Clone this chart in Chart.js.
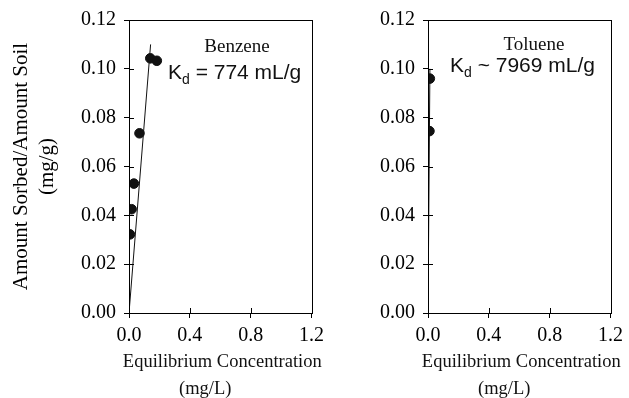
<!DOCTYPE html>
<html>
<head>
<meta charset="utf-8">
<script src="https://cdn.jsdelivr.net/npm/chart.js@4"></script>
<style>
    body { margin: 0; background: #fff; }
    .wrap { position: relative; width: 629px; height: 398px; }
    .box { position: absolute; top: 0; height: 398px; }
</style>
</head>
<body>
<div class="wrap">
    <div class="box" style="left:0;width:330px;"><canvas id="benzene-chart"></canvas></div>
    <div class="box" style="left:330px;width:299px;"><canvas id="toluene-chart"></canvas></div>
</div>
<script>
// 苯 benzene: measured points and fitted line (Kd = 774 mL/g)
const benzeneConc = [0.006, 0.017, 0.032, 0.069, 0.140, 0.183];
const benzeneSorbed = [0.0322, 0.0425, 0.0530, 0.0736, 0.1043, 0.1033];
const benzeneFitConc = [0, 0.142];
const benzeneFitSorbed = [0, 0.110];

// 甲苯 toluene: measured points and fitted line (Kd ~ 7969 mL/g)
const tolueneConc = [0.0095, 0.012];
const tolueneSorbed = [0.0745, 0.0960];
const tolueneFitConc = [0, 0.0126];
const tolueneFitSorbed = [0, 0.100];

const xTicks = [0, 0.4, 0.8, 1.2];
const yTicks = [0, 0.02, 0.04, 0.06, 0.08, 0.10, 0.12];
const xTitle = ['Equilibrium Concentration', '(mg/L)'];
const yTitle = ['Amount Sorbed/Amount Soil', '(mg/g)'];

const SERIF = '"Liberation Serif", "Times New Roman", serif';
const SANS = '"Liberation Sans", Arial, sans-serif';

Chart.defaults.font.family = SERIF;
Chart.defaults.color = '#000';

function toPoints(xs, ys) {
    return xs.map((x, i) => ({ x: x, y: ys[i] }));
}

// 框線、向內刻度與 x 軸標題
const framePlugin = {
    id: 'frame',
    afterDraw(chart) {
        const ctx = chart.ctx;
        const a = chart.chartArea;
        ctx.save();
        ctx.strokeStyle = '#000';
        ctx.lineWidth = 1;
        ctx.strokeRect(Math.round(a.left) + 0.5, Math.round(a.top) + 0.5,
            Math.round(a.right - a.left), Math.round(a.bottom - a.top));
        ctx.beginPath();
        const xs = chart.scales.x;
        xs.ticks.forEach((t, i) => {
            const px = Math.round(xs.getPixelForTick(i)) + 0.5;
            ctx.moveTo(px, a.bottom);
            ctx.lineTo(px, a.bottom - 5);
        });
        const ys = chart.scales.y;
        ys.ticks.forEach((t, i) => {
            const py = Math.round(ys.getPixelForTick(i)) + 0.5;
            ctx.moveTo(a.left, py);
            ctx.lineTo(a.left + 5, py);
        });
        ctx.stroke();

        // x 軸標題 (比圖寬，不壓縮)
        ctx.fillStyle = '#111';
        ctx.font = '18.5px ' + SERIF;
        ctx.textAlign = 'center';
        ctx.textBaseline = 'alphabetic';
        const cx = (a.left + a.right) / 2 + 2;
        ctx.fillText(xTitle[0], cx, 367);
        ctx.fillText(xTitle[1], cx - 17, 394);
        ctx.restore();
    }
};

// 標籤文字 (名稱 + Kd)
function labelPlugin(name, nameX, nameY, kdRest, kdX, kdY) {
    return {
        id: 'labels',
        afterDraw(chart) {
            const ctx = chart.ctx;
            ctx.save();
            ctx.fillStyle = '#111';
            ctx.textBaseline = 'alphabetic';
            ctx.textAlign = 'center';
            ctx.font = '19px ' + SERIF;
            ctx.fillText(name, nameX, nameY);
            ctx.textAlign = 'left';
            ctx.font = '21px ' + SANS;
            ctx.fillText('K', kdX, kdY);
            let x = kdX + ctx.measureText('K').width;
            ctx.font = '14px ' + SANS;
            ctx.fillText('d', x, kdY + 5);
            x += ctx.measureText('d').width;
            ctx.font = '21px ' + SANS;
            ctx.fillText(kdRest, x, kdY);
            ctx.restore();
        }
    };
}

function makeChart(id, pts, fit, yWidth, padRight, showYTitle, labels) {
    return new Chart(document.getElementById(id), {
        type: 'scatter',
        data: {
            datasets: [{
                data: pts,
                backgroundColor: '#111',
                borderColor: '#111',
                pointRadius: 4.8,
                pointHoverRadius: 4.8
            }, {
                type: 'line',
                data: fit,
                borderColor: '#111',
                borderWidth: 1,
                pointRadius: 0,
                fill: false
            }]
        },
        options: {
            responsive: true,
            maintainAspectRatio: false,
            animation: false,
            events: [],
            layout: { padding: { top: 20, right: padRight, left: 0, bottom: 0 } },
            plugins: {
                legend: { display: false },
                tooltip: { enabled: false }
            },
            scales: {
                x: {
                    type: 'linear',
                    min: 0,
                    max: 1.2,
                    afterBuildTicks: s => { s.ticks = xTicks.map(v => ({ value: v })); },
                    afterFit: s => { s.height = 85; },
                    grid: { drawOnChartArea: false, tickLength: 5, color: '#000' },
                    border: { color: '#000' },
                    ticks: {
                        padding: 6,
                        font: { size: 20 },
                        maxRotation: 0,
                        callback: v => v.toFixed(1)
                    }
                },
                y: {
                    min: 0,
                    max: 0.12,
                    afterBuildTicks: s => { s.ticks = yTicks.map(v => ({ value: v })); },
                    afterFit: s => { s.width = yWidth; },
                    grid: { drawOnChartArea: false, tickLength: 5, color: '#000' },
                    border: { color: '#000' },
                    ticks: {
                        padding: 8,
                        font: { size: 20 },
                        callback: v => v.toFixed(2)
                    },
                    title: {
                        display: showYTitle,
                        text: yTitle,
                        font: { size: 21, lineHeight: 1.25 },
                        padding: { top: 8, bottom: 0 }
                    }
                }
            }
        },
        plugins: [framePlugin, labels]
    });
}

makeChart('benzene-chart',
    toPoints(benzeneConc, benzeneSorbed),
    toPoints(benzeneFitConc, benzeneFitSorbed),
    129, 14, true,
    labelPlugin('Benzene', 237, 52, ' = 774 mL/g', 168, 79));

makeChart('toluene-chart',
    toPoints(tolueneConc, tolueneSorbed),
    toPoints(tolueneFitConc, tolueneFitSorbed),
    98, 14, false,
    labelPlugin('Toluene', 204, 50, ' ~ 7969 mL/g', 120, 72));
</script>
</body>
</html>
